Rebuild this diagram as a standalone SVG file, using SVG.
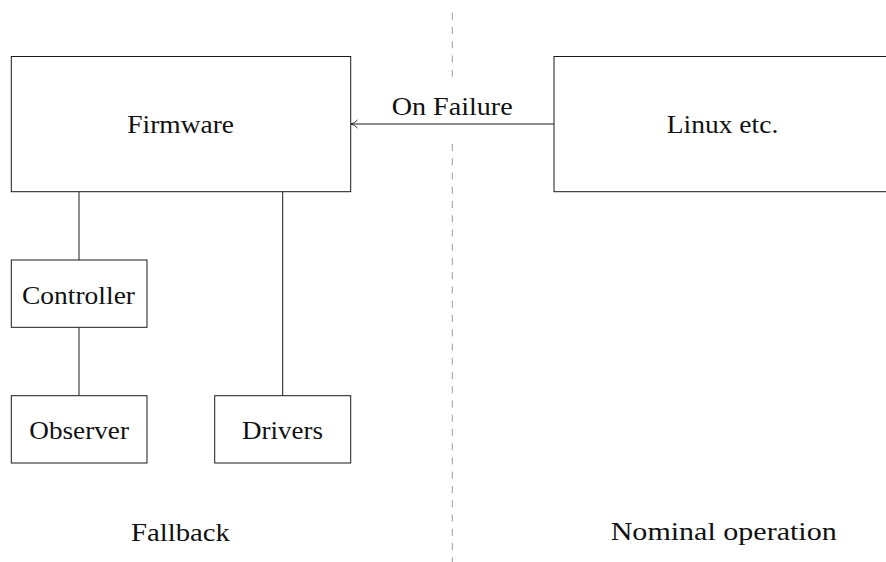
<svg xmlns="http://www.w3.org/2000/svg" width="886" height="562" viewBox="0 0 886 562">
  <style>
    .box { fill: #ffffff; stroke: #1a1a1a; stroke-width: 1; }
    .link { fill: none; stroke: #1a1a1a; stroke-width: 1; }
    .divider { fill: none; stroke: #9a9a9a; stroke-width: 1; stroke-dasharray: 7 7.25; }
    .lbl { font-family: "Liberation Serif", "DejaVu Serif", serif; font-size: 25.5px; fill: #111111; }
  </style>
  <defs>
    <marker id="tip" viewBox="0 0 8 10" refX="7.5" refY="5" markerWidth="8" markerHeight="10" markerUnits="userSpaceOnUse" orient="auto">
      <path d="M1,1 Q4,4.2 7.5,5 Q4,5.8 1,9" fill="none" stroke="#1a1a1a" stroke-width="0.9"/>
    </marker>
  </defs>

  <rect width="886" height="562" fill="#ffffff"/>

  <!-- section divider -->
  <g id="divider">
    <line class="divider" x1="452.3" y1="12.7" x2="452.3" y2="78"/>
    <line class="divider" x1="452.3" y1="144" x2="452.3" y2="562"/>
  </g>

  <!-- connectors -->
  <g id="connectors">
    <line class="link" x1="79" y1="191.7" x2="79" y2="260"/>
    <line class="link" x1="79" y1="327.3" x2="79" y2="395.7"/>
    <line class="link" x1="282.7" y1="191.7" x2="282.7" y2="395.7"/>
    <line class="link" x1="554" y1="124" x2="351" y2="124" marker-end="url(#tip)"/>
    <text class="lbl" x="391.7" y="115" textLength="121" lengthAdjust="spacingAndGlyphs">On Failure</text>
  </g>

  <g id="firmware">
    <rect class="box" x="11.3" y="56.5" width="339.4" height="135.2"/>
    <text class="lbl" x="127.3" y="132.5" textLength="106.7" lengthAdjust="spacingAndGlyphs">Firmware</text>
  </g>

  <g id="linux">
    <rect class="box" x="554" y="56.5" width="345" height="135.2"/>
    <text class="lbl" x="666.7" y="133.3" textLength="111.6" lengthAdjust="spacingAndGlyphs">Linux etc.</text>
  </g>

  <g id="controller">
    <rect class="box" x="11.3" y="260" width="135.7" height="67.3"/>
    <text class="lbl" x="22" y="304" textLength="113" lengthAdjust="spacingAndGlyphs">Controller</text>
  </g>

  <g id="observer">
    <rect class="box" x="11.3" y="395.7" width="135.7" height="67.3"/>
    <text class="lbl" x="29.3" y="439" textLength="99.7" lengthAdjust="spacingAndGlyphs">Observer</text>
  </g>

  <g id="drivers">
    <rect class="box" x="214.7" y="395.7" width="136" height="67.3"/>
    <text class="lbl" x="242" y="439" textLength="81" lengthAdjust="spacingAndGlyphs">Drivers</text>
  </g>

  <g id="fallback">
    <text class="lbl" x="131" y="540.7" textLength="99" lengthAdjust="spacingAndGlyphs">Fallback</text>
  </g>

  <g id="nominal">
    <text class="lbl" x="610.7" y="539.5" textLength="226" lengthAdjust="spacingAndGlyphs">Nominal operation</text>
  </g>
</svg>
